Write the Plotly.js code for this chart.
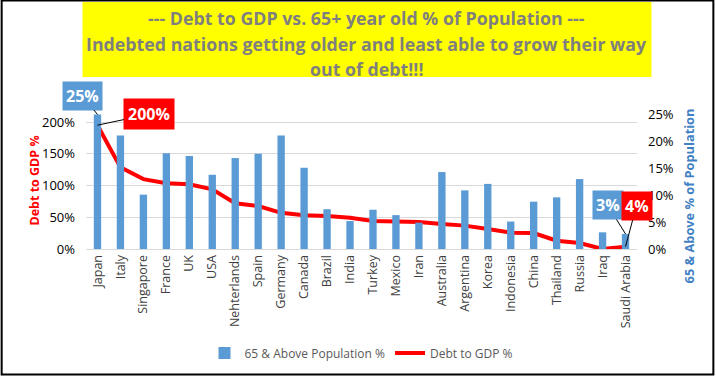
<!DOCTYPE html>
<html><head><meta charset="utf-8">
<script src="https://cdn.plot.ly/plotly-3.0.1.min.js"></script>
<style>body{margin:0;padding:0;background:#fff}#c{width:716px;height:376px}</style>
</head><body><div id="c"></div>
<script>
const countries = ["Japan","Italy","Singapore","France","UK","USA","Nehterlands","Spain","Germany","Canada","Brazil","India","Turkey","Mexico","Iran","Australia","Argentina","Korea","Indonesia","China","Thailand","Russia","Iraq","Saudi Arabia"];
const pop65 = [25.0,21.1,10.1,17.8,17.3,13.8,16.9,17.7,21.1,15.1,7.4,5.2,7.3,6.3,4.9,14.3,10.9,12.1,5.1,8.8,9.6,13.0,3.1,2.8];
const debtGdp = [195,128.6,110,103.4,102,94,72,67.7,57,53,52,49.3,44,42.5,42.5,39.4,36.8,31.5,25.7,25.2,13.1,9.4,0,3.7];
const leftTicks = [0,50,100,150,200];
const rightTicks = [0,5,10,15,20,25];
const titleLines = ["--- Debt to GDP vs. 65+ year old % of Population ---","Indebted nations getting older and least able to grow their way","out of debt!!!"];

const W=716,H=376,L=85.5,R=637.5,T=105,B=249;
const px=x=>(x-L)/(R-L), py=y=>(B-y)/(B-T);
const F="Open Sans, sans-serif";
const titleY=[18,44,69];

const traces=[
 {type:'bar',x:countries,y:pop65,yaxis:'y2',name:'65 & Above Population %',marker:{color:'#5B9BD5'}},
 {type:'scatter',mode:'lines',x:countries,y:debtGdp,yaxis:'y',name:'Debt to GDP %',line:{color:'#FF0000',width:4}}
];
const anns = titleLines.map((t,i)=>({xref:'paper',yref:'paper',x:px(367),y:py(titleY[i]),xanchor:'center',yanchor:'middle',showarrow:false,text:t,font:{size:17.8,color:'#7F7F7F',weight:'bold'}}));
anns.push(
  {xref:'paper',yref:'paper',x:px(33),y:py(181),xanchor:'center',yanchor:'middle',textangle:-90,showarrow:false,text:'Debt to GDP %',font:{size:12.5,color:'#FF0000',weight:'bold'}},
  {xref:'paper',yref:'paper',x:px(690),y:py(196),xanchor:'center',yanchor:'middle',textangle:-90,showarrow:false,text:'65 & Above % of Population',font:{size:12.8,color:'#3F7FC4',weight:'bold'}},
  {x:countries[0],y:pop65[0],xref:'x',yref:'y2',text:'25%',showarrow:true,arrowhead:0,arrowwidth:1,arrowcolor:'#000',ax:-15,ay:-19,bgcolor:'#5B9BD5',font:{size:16,color:'#fff',weight:'bold'},borderpad:3},
  {x:countries[0],y:debtGdp[0],xref:'x',yref:'y',text:'200%',showarrow:true,arrowhead:0,arrowwidth:1,arrowcolor:'#000',ax:52,ay:-11,bgcolor:'#FF0000',font:{size:16,color:'#fff',weight:'bold'},borderpad:4},
  {x:countries[23],y:pop65[23],xref:'x',yref:'y2',text:'3%',showarrow:true,arrowhead:0,arrowwidth:1,arrowcolor:'#000',ax:-18,ay:-29,bgcolor:'#5B9BD5',font:{size:16,color:'#fff',weight:'bold'},borderpad:3},
  {x:countries[23],y:debtGdp[23],xref:'x',yref:'y',text:'4%',showarrow:true,arrowhead:0,arrowwidth:1,arrowcolor:'#000',ax:11,ay:-41,bgcolor:'#FF0000',font:{size:16,color:'#fff',weight:'bold'},borderpad:3}
);
const layout={
 width:W,height:H,margin:{l:L,r:W-R,t:T,b:H-B,autoexpand:false},
 paper_bgcolor:'#fff',plot_bgcolor:'#fff',
 font:{family:F,size:12,color:'#000'},
 showlegend:true,
 legend:{orientation:'h',x:0.5,xanchor:'center',y:py(353),yanchor:'middle',font:{size:12,color:'#595959'},traceorder:'normal'},
 bargap:0.68,
 xaxis:{type:'category',automargin:false,range:[-0.5,countries.length-0.5],tickangle:-90,tickfont:{size:12.5,color:'#404040'},showline:true,linecolor:'#D9D9D9',ticks:'',showgrid:false},
 yaxis:{automargin:false,range:[0,(B-T)/0.635],tickvals:leftTicks,ticktext:leftTicks.map(v=>v+'%'),showgrid:true,gridcolor:'#D9D9D9',zeroline:false,ticks:'',ticklabelstandoff:10,tickfont:{size:13,color:'#000'}},
 yaxis2:{automargin:false,overlaying:'y',side:'right',range:[0,(B-T)/5.38],tickvals:rightTicks,ticktext:rightTicks.map(v=>v+'%'),showgrid:false,zeroline:false,ticks:'',ticklabelstandoff:10,tickfont:{size:13,color:'#000'}},
 shapes:[
  {type:'rect',xref:'paper',yref:'paper',x0:px(82),x1:px(652),y0:py(77),y1:py(2),fillcolor:'#FFFF00',line:{width:0},layer:'below'},
  {type:'rect',xref:'paper',yref:'paper',x0:px(1),x1:px(714),y0:py(374.5),y1:py(0.5),line:{color:'#000',width:2},fillcolor:'rgba(0,0,0,0)'}
 ],
 annotations:anns
};
Plotly.newPlot('c',traces,layout,{displayModeBar:false,staticPlot:true});
</script></body></html>
